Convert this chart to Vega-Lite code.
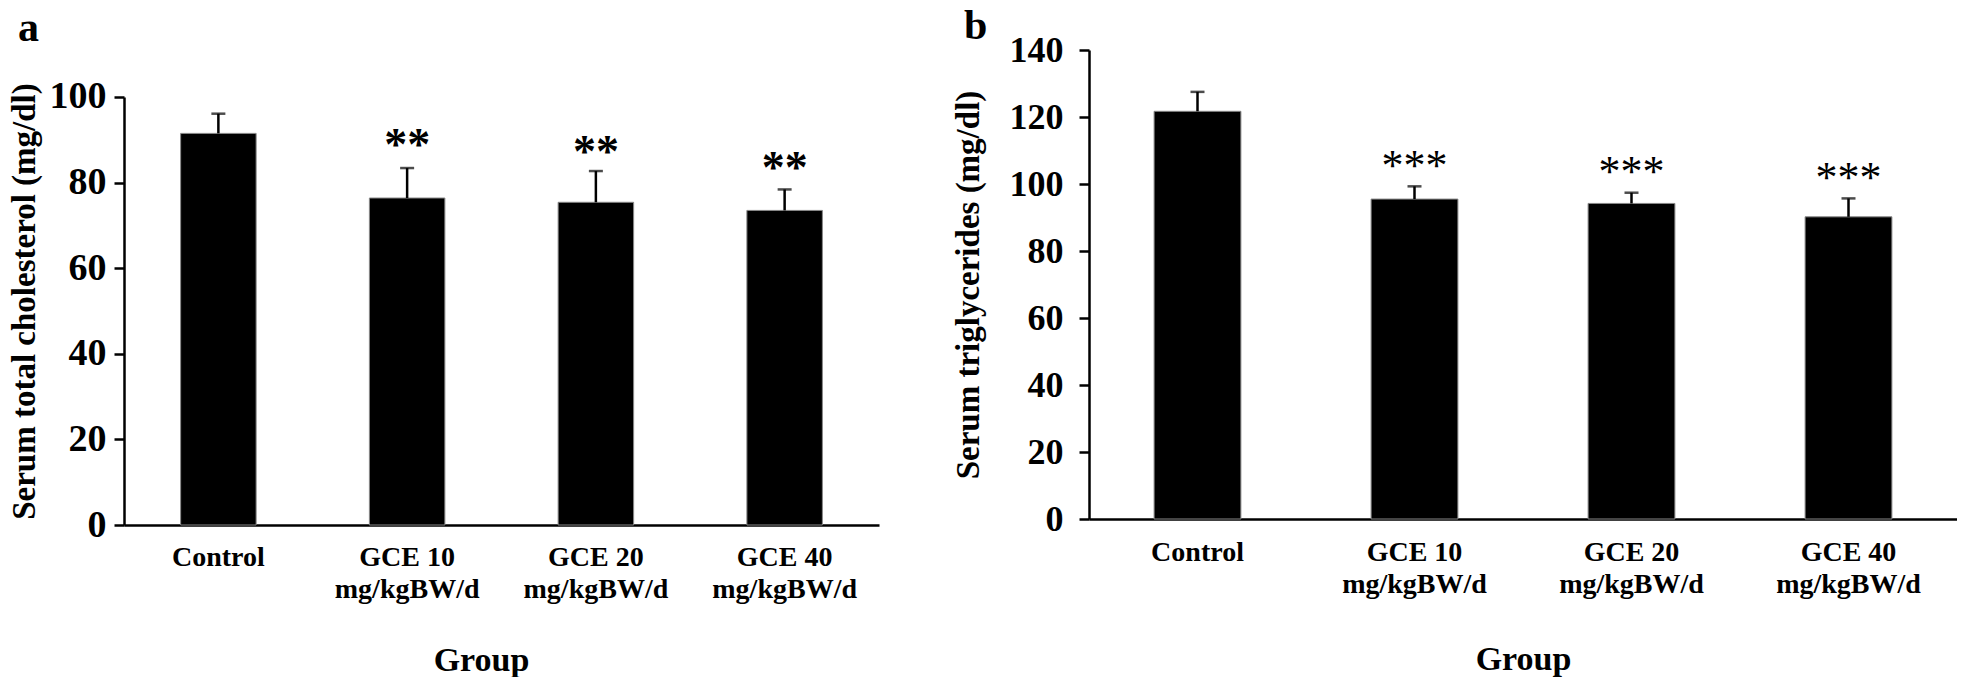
{
  "$schema": "https://vega.github.io/schema/vega-lite/v6.json",
  "background": "white",
  "padding": {"left": 8, "top": 5, "right": 0, "bottom": 0},
  "config": {
    "view": {"stroke": null},
    "font": "Liberation Serif",
    "concat": {"spacing": 73},
    "axis": {"labelColor": "black", "titleColor": "black", "domainColor": "black", "tickColor": "black", "grid": false}
  },
  "datasets": {
    "chol": [
      {"group": "Control", "mean": 91.5, "upper": 96.1, "sig": "", "sig_y": 96.1},
      {"group": "GCE 10 mg/kgBW/d", "mean": 76.4, "upper": 83.4, "sig": "**", "sig_y": 89.7},
      {"group": "GCE 20 mg/kgBW/d", "mean": 75.4, "upper": 82.7, "sig": "**", "sig_y": 88.0},
      {"group": "GCE 40 mg/kgBW/d", "mean": 73.5, "upper": 78.4, "sig": "**", "sig_y": 84.3}
    ],
    "tg": [
      {"group": "Control", "mean": 121.7, "upper": 127.5, "sig": "", "sig_y": 127.5},
      {"group": "GCE 10 mg/kgBW/d", "mean": 95.5, "upper": 99.3, "sig": "***", "sig_y": 106.7},
      {"group": "GCE 20 mg/kgBW/d", "mean": 94.2, "upper": 97.4, "sig": "***", "sig_y": 104.7},
      {"group": "GCE 40 mg/kgBW/d", "mean": 90.2, "upper": 95.7, "sig": "***", "sig_y": 103.0}
    ]
  },
  "hconcat": [
    {
      "width": 755,
      "height": 475,
      "title": {"text": "a", "anchor": "start", "frame": "bounds", "fontSize": 42, "fontWeight": "bold", "color": "black", "offset": 0, "dx": 10},
      "data": {"name": "chol"},
      "encoding": {
        "x": {
          "field": "group", "type": "nominal", "sort": null,
          "scale": {"paddingInner": 0.6, "paddingOuter": 0.3},
          "axis": {
            "title": "Group", "titleFontSize": 34, "titleFontWeight": "bold", "titlePadding": 40, "titleX": 357,
            "labelFontSize": 28, "labelFontWeight": "bold", "labelAngle": 0, "labelPadding": 18, "labelLineHeight": 32,
            "ticks": false, "domainWidth": 2.5,
            "labelExpr": "datum.label == 'Control' ? 'Control' : [slice(datum.label, 0, 6), slice(datum.label, 7)]"
          }
        }
      },
      "layer": [
        {
          "mark": {"type": "bar", "color": "black", "stroke": "#888888", "strokeWidth": 1},
          "encoding": {
            "y": {
              "field": "mean", "type": "quantitative", "scale": {"domain": [0, 110.98], "nice": false},
              "axis": {
                "title": "Serum total cholesterol (mg/dl)", "titleFontSize": 33, "titleFontWeight": "bold", "titlePadding": 8, "titleY": 251,
                "values": [0, 20, 40, 60, 80, 100], "labelFontSize": 38, "labelFontWeight": "bold", "labelPadding": 8,
                "tickSize": 10, "tickWidth": 2.5, "domainWidth": 2.5, "domainDash": [428, 2000]
              }
            }
          }
        },
        {
          "mark": {"type": "rule", "color": "black", "strokeWidth": 2.5},
          "encoding": {"y": {"field": "mean", "type": "quantitative"}, "y2": {"field": "upper"}}
        },
        {
          "mark": {"type": "tick", "orient": "horizontal", "color": "black", "size": 14, "thickness": 2.5},
          "encoding": {"y": {"field": "upper", "type": "quantitative"}}
        },
        {
          "mark": {"type": "text", "color": "black", "fontSize": 46, "fontWeight": "bold", "font": "Liberation Serif", "baseline": "middle", "dy": 5},
          "encoding": {"y": {"field": "sig_y", "type": "quantitative"}, "text": {"field": "sig"}}
        }
      ]
    },
    {
      "width": 868,
      "height": 469,
      "title": {"text": "b", "anchor": "start", "frame": "bounds", "fontSize": 42, "fontWeight": "bold", "color": "black", "offset": -16, "dx": 12},
      "data": {"name": "tg"},
      "encoding": {
        "x": {
          "field": "group", "type": "nominal", "sort": null,
          "scale": {"paddingInner": 0.6, "paddingOuter": 0.3},
          "axis": {
            "title": "Group", "titleFontSize": 34, "titleFontWeight": "bold", "titlePadding": 44,
            "labelFontSize": 28, "labelFontWeight": "bold", "labelAngle": 0, "labelPadding": 19, "labelLineHeight": 32,
            "ticks": false, "domainWidth": 2.5,
            "labelExpr": "datum.label == 'Control' ? 'Control' : [slice(datum.label, 0, 6), slice(datum.label, 7)]"
          }
        }
      },
      "layer": [
        {
          "mark": {"type": "bar", "color": "black", "stroke": "#888888", "strokeWidth": 1},
          "encoding": {
            "y": {
              "field": "mean", "type": "quantitative", "scale": {"domain": [0, 140]},
              "axis": {
                "title": "Serum triglycerides (mg/dl)", "titleFontSize": 33, "titleFontWeight": "bold", "titlePadding": 24,
                "values": [0, 20, 40, 60, 80, 100, 120, 140], "labelFontSize": 36, "labelFontWeight": "bold", "labelPadding": 16,
                "tickSize": 10, "tickWidth": 2.5, "domainWidth": 2.5
              }
            }
          }
        },
        {
          "mark": {"type": "rule", "color": "black", "strokeWidth": 2.5},
          "encoding": {"y": {"field": "mean", "type": "quantitative"}, "y2": {"field": "upper"}}
        },
        {
          "mark": {"type": "tick", "orient": "horizontal", "color": "black", "size": 14, "thickness": 2.5},
          "encoding": {"y": {"field": "upper", "type": "quantitative"}}
        },
        {
          "mark": {"type": "text", "color": "black", "fontSize": 44, "fontWeight": "normal", "font": "Liberation Serif", "baseline": "middle", "dy": 5},
          "encoding": {"y": {"field": "sig_y", "type": "quantitative"}, "text": {"field": "sig"}}
        }
      ]
    }
  ]
}
